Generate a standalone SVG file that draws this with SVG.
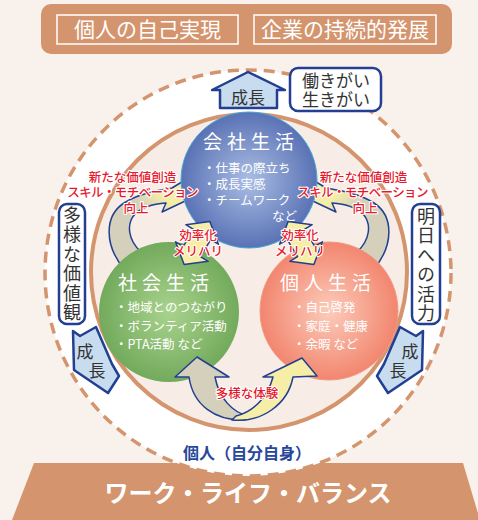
<svg xmlns="http://www.w3.org/2000/svg" width="478" height="520" viewBox="0 0 478 520">
  <style>
    .jp { font-family: "Noto Sans CJK JP", "Noto Sans", sans-serif; }
    .title { font-size: 21px; fill: #ffffff; text-anchor: middle; }
    .ctitle { font-size: 19px; fill: #ffffff; letter-spacing: 5px; text-anchor: middle; }
    .bul { font-size: 12.5px; fill: #ffffff; }
    .dark { fill: #333333; }
    .red { font-size: 12.5px; fill: #e8182c; font-weight: 500; text-anchor: middle; stroke: #ffffff; stroke-width: 2.2px; paint-order: stroke; stroke-linejoin: round; }
    .vert { font-size: 18px; fill: #333333; writing-mode: vertical-rl; letter-spacing: 1.5px; }
    .navyline { stroke: #223f91; stroke-width: 2.5; stroke-linejoin: round; }
    .thin { stroke: #223f91; stroke-width: 1.5; stroke-linejoin: round; }
  </style>
  <defs>
    <radialGradient id="gBlue" cx="0.5" cy="0.5" r="0.5">
      <stop offset="0" stop-color="#aabee4"/>
      <stop offset="1" stop-color="#5a72b5"/>
    </radialGradient>
    <radialGradient id="gGreen" cx="0.5" cy="0.5" r="0.5">
      <stop offset="0" stop-color="#a9d38d"/>
      <stop offset="1" stop-color="#73aa5c"/>
    </radialGradient>
    <radialGradient id="gRed" cx="0.5" cy="0.5" r="0.5">
      <stop offset="0" stop-color="#fcccbb"/>
      <stop offset="1" stop-color="#f2866f"/>
    </radialGradient>
    <linearGradient id="gArm" gradientUnits="userSpaceOnUse" x1="125" y1="250" x2="180" y2="195">
      <stop offset="0" stop-color="#d5d0bb"/>
      <stop offset="0.55" stop-color="#d5d0bb"/>
      <stop offset="0.85" stop-color="#f6eea6"/>
    </linearGradient>
  </defs>

  <!-- background -->
  <rect x="0" y="0" width="478" height="520" fill="#f9f1ec"/>

  <!-- top banner -->
  <g id="banner">
    <rect x="41" y="4" width="411" height="50" rx="10" fill="#d4956e"/>
    <rect x="57" y="15" width="181" height="29" fill="none" stroke="#ffffff" stroke-width="1.5"/>
    <rect x="254" y="15" width="182" height="29" fill="none" stroke="#ffffff" stroke-width="1.5"/>
    <text class="jp title" x="147.5" y="37">個人の自己実現</text>
    <text class="jp title" x="345" y="37">企業の持続的発展</text>
  </g>

  <!-- bottom base -->
  <g id="base">
    <polygon points="34,463 463,463 480,520 12,520" fill="#d4956e"/>
  </g>

  <!-- individual circle -->
  <g id="node-individual">
    <circle cx="248" cy="273" r="203" fill="#ffffff" stroke="#d4956e" stroke-width="3.5" stroke-dasharray="11 7"/>
    <circle cx="249" cy="272" r="158" fill="#f7ede6" stroke="#d4956e" stroke-width="4"/>
    <text class="jp" x="247" y="459" font-size="16" font-weight="bold" fill="#26479a" text-anchor="middle">個人（自分自身）</text>
  </g>

  <g id="wlb-label">
    <text class="jp" x="248" y="502" font-size="24" font-weight="bold" fill="#ffffff" text-anchor="middle">ワーク・ライフ・バランス</text>
  </g>

  <!-- connectors -->
  <g id="connectors">
    <!-- top growth arrow -->
    <polygon class="navyline" points="248,72 285,90 277,90 277,108 220,108 220,90 212,90" fill="#c7dcef"/>
    <!-- side growth arrows -->
    <polygon class="navyline" points="73,331 80,336 96,327 112,364 119,376 108,393 74,370" fill="#c7dcef"/>
    <polygon class="navyline" points="73,331 80,336 96,327 112,364 119,376 108,393 74,370" fill="#c7dcef" transform="translate(496,0) scale(-1,1)"/>
    <!-- curved arrows top -->
    <path class="thin" fill="url(#gArm)" d="M 125,270 C 104,246 104,216 124,203 C 138,194 155,191 172,188 L 190,177 L 200,194 L 162,212 L 166,203 C 153,204 142,207 135,214 C 126,224 128,240 141,252 Z"/>
    <path class="thin" fill="url(#gArm)" transform="translate(498,0) scale(-1,1)" d="M 125,270 C 104,246 104,216 124,203 C 138,194 155,191 172,188 L 190,177 L 200,194 L 162,212 L 166,203 C 153,204 142,207 135,214 C 126,224 128,240 141,252 Z"/>
  </g>

  <!-- company life -->
  <g id="node-company">
    <circle cx="249" cy="180" r="68" fill="url(#gBlue)" stroke="#45a9d3" stroke-width="1"/>
    <text class="jp ctitle" x="251" y="149">会社生活</text>
    <text class="jp bul">
      <tspan x="203" y="173">・仕事の際立ち</tspan>
      <tspan x="203" y="189">・成長実感</tspan>
      <tspan x="203" y="205">・チームワーク</tspan>
      <tspan x="272" y="221">など</tspan>
    </text>
  </g>

  <!-- social life -->
  <g id="node-social">
    <circle cx="169" cy="312" r="70" fill="url(#gGreen)"/>
    <text class="jp ctitle" x="166" y="290">社会生活</text>
    <text class="jp bul">
      <tspan x="115" y="312">・地域とのつながり</tspan>
      <tspan x="115" y="331">・ボランティア活動</tspan>
      <tspan x="115" y="349">・PTA活動 など</tspan>
    </text>
  </g>

  <!-- personal life -->
  <g id="node-personal">
    <circle cx="329" cy="311" r="69" fill="url(#gRed)" stroke="#f29a84" stroke-width="1"/>
    <text class="jp ctitle" x="328" y="290">個人生活</text>
    <text class="jp bul">
      <tspan x="293" y="312">・自己啓発</tspan>
      <tspan x="293" y="331">・家庭・健康</tspan>
      <tspan x="293" y="349">・余暇 など</tspan>
    </text>
  </g>

  <!-- connectors drawn above circles -->
  <g id="connectors-front">
    <!-- small double arrows -->
    <polygon class="thin" fill="#f6eea6" transform="translate(197,243) rotate(31)" points="0,-25 19,-10 10,-10 10,10 19,10 0,25 -19,10 -10,10 -10,-10 -19,-10"/>
    <polygon class="thin" fill="#f6eea6" transform="translate(301,243) rotate(-31)" points="0,-25 19,-10 10,-10 10,10 19,10 0,25 -19,10 -10,10 -10,-10 -19,-10"/>
    <!-- bottom arrows -->
    <path class="thin" fill="#d5d0bb" d="M 245,420 C 215,421 193,405 189,377 L 175,377 L 197,357 L 229,377 L 215,377 C 219,398 232,412 248,416 Z"/>
    <path class="thin" fill="#f6eea6" d="M 232,420 C 262,423 288,404 293,377 L 317,376 L 302,358 L 263,377 L 273,377 C 268,396 255,411 236,416 Z"/>
  </g>

  <!-- labels -->
  <g id="labels">
    <text class="jp dark" x="248" y="104" font-size="17" text-anchor="middle">成長</text>
    <text class="jp dark" font-size="17" text-anchor="middle"><tspan x="85" y="358">成</tspan><tspan x="97" y="377">長</tspan></text>
    <text class="jp dark" font-size="17" text-anchor="middle"><tspan x="410" y="358">成</tspan><tspan x="398" y="377">長</tspan></text>

    <text class="jp red">
      <tspan x="134" y="182">新たな価値創造</tspan>
      <tspan x="134" y="197" letter-spacing="-0.6">スキル・モチベーション</tspan>
      <tspan x="136" y="213">向上</tspan>
    </text>
    <text class="jp red">
      <tspan x="365" y="182">新たな価値創造</tspan>
      <tspan x="364" y="197" letter-spacing="-0.6">スキル・モチベーション</tspan>
      <tspan x="365" y="213">向上</tspan>
    </text>

    <text class="jp red"><tspan x="198" y="240">効率化</tspan><tspan x="198" y="256">メリハリ</tspan></text>
    <text class="jp red"><tspan x="300" y="240">効率化</tspan><tspan x="300" y="256">メリハリ</tspan></text>

    <text class="jp red" x="247" y="398">多様な体験</text>
  </g>

  <g id="box-ikigai">
    <rect class="navyline" x="290" y="68" width="91" height="43" rx="8" fill="#ffffff"/>
    <text class="jp dark" font-size="17" text-anchor="middle"><tspan x="336" y="87">働きがい</tspan><tspan x="336" y="106">生きがい</tspan></text>
  </g>

  <g id="box-values">
    <rect class="navyline" x="59" y="204" width="26" height="120" rx="8" fill="#ffffff"/>
    <text class="jp vert" x="72" y="206">多様な価値観</text>
  </g>

  <g id="box-energy">
    <rect class="navyline" x="412" y="204" width="28" height="120" rx="8" fill="#ffffff"/>
    <text class="jp vert" x="426" y="207">明日への活力</text>
  </g>
</svg>
